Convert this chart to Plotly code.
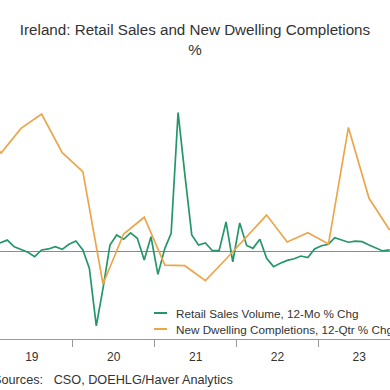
import plotly.graph_objects as go
import pandas as pd

# ---- data ----
retail_months = pd.date_range("2019-01-01", periods=59, freq="MS") + pd.Timedelta(days=14)
retail_sales = [3.4, 4.9, 5.9, 2.5, 1.1, -0.3, -2.5, 0.9, 1.4, 2.5, 1.2, 3.8,
                5.4, 0.9, -8.4, -37.7, -18.6, 3.4, 8.5, 6.3, 9.6, 6.8, -4.2, 7.6,
                -11.5, 1.7, 9.3, 70.6, 39.4, 8.5, 3.4, 4.4, 0.5, 0.5, 15.1, -5.1,
                14.6, 3.2, 1.7, 6.3, -3.4, -7.6, -5.9, -4.4, -3.6, -2.2, -3.0, 1.4,
                3.0, 3.8, 7.1, 5.9, 4.8, 5.4, 5.1, 3.4, 1.7, 0.4, 0.9]

dwelling_quarters = pd.date_range("2018-10-01", periods=21, freq="QS") + pd.DateOffset(months=1, days=14)
dwelling_completions = [64.3, 50.1, 62.6, 69.9, 50.3, 40.6, -16.4, 9.0, 17.5, -6.8, -7.1,
                        -14.7, -3.7, 7.5, 18.6, 4.9, 9.6, 3.9, 63.1, 27.1, 11.0]

series_names = ["Retail Sales Volume, 12-Mo % Chg", "New Dwelling Completions, 12-Qtr % Chg"]
title_text = "Ireland: Retail Sales and New Dwelling Completions"
subtitle_text = "%"
source_text = "Sources:\u00a0\u00a0\u00a0CSO, DOEHLG/Haver Analytics"

GREEN = "#25966a"
ORANGE = "#eba64c"

# ---- layout geometry ----
W = H = 390
MT, MB = 80, 51
PH = H - MT - MB


def px(x):
    return x / W


def py(y):
    return (H - MB - y) / PH


fig = go.Figure()
fig.add_trace(go.Scatter(x=retail_months, y=retail_sales, mode="lines", name=series_names[0],
                         line=dict(color=GREEN, width=1.7), showlegend=False))
fig.add_trace(go.Scatter(x=dwelling_quarters, y=dwelling_completions, mode="lines", name=series_names[1],
                         line=dict(color=ORANGE, width=1.7), showlegend=False))

# legend keys (short lines) + text
for i, (name, col) in enumerate(zip(series_names, [GREEN, ORANGE])):
    yy = 313 + 16 * i
    fig.add_shape(type="line", xref="paper", yref="paper", x0=px(154), x1=px(167),
                  y0=py(yy), y1=py(yy), line=dict(color=col, width=2))
    fig.add_annotation(xref="paper", yref="paper", x=px(174), y=py(yy), text=name,
                       showarrow=False, xanchor="left", yanchor="middle",
                       font=dict(size=11.7, color="#333333"))

fig.add_annotation(xref="paper", yref="paper", x=px(-9), y=py(380), text=source_text,
                   showarrow=False, xanchor="left", yanchor="middle",
                   font=dict(size=12.7, color="#333333"))

fig.update_layout(
    width=W, height=H,
    margin=dict(l=0, r=0, t=MT, b=MB, pad=0),
    paper_bgcolor="white", plot_bgcolor="white",
    font=dict(family="Liberation Sans, Arial, sans-serif", color="#333333"),
    title=dict(text=title_text + "<br>" + subtitle_text, x=0.5, xanchor="center",
               y=1 - 35 / H, yanchor="top", yref="container",
               font=dict(size=15.2, color="#333333")),
    showlegend=False,
    xaxis=dict(range=["2019-02-10 08:00", "2023-11-16 14:00"], type="date",
               dtick="M12", tick0="2019-01-01", tickformat="%y", ticklabelmode="period",
               ticks="outside", ticklen=7, tickcolor="#999999", tickwidth=1,
               showline=True, linecolor="#999999", linewidth=1, showgrid=False,
               zeroline=False, tickfont=dict(size=12, color="#333333")),
    yaxis=dict(range=[(251.7 - 339) / 1.97, (251.7 - 80) / 1.97], showticklabels=False,
               ticks="", showgrid=False, showline=False, zeroline=True,
               zerolinecolor="#8a8a8a", zerolinewidth=1),
)

fig.write_html("out.html", config={"displayModeBar": False},
               post_script="document.body.style.margin='0';")
